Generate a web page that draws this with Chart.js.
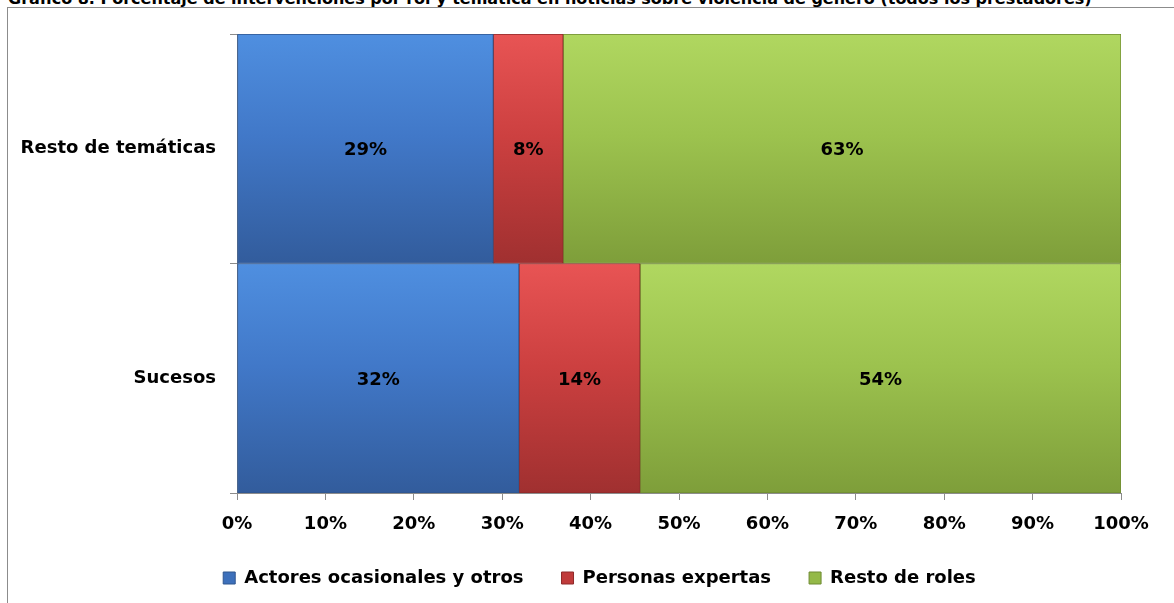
<!DOCTYPE html>
<html>
<head>
<meta charset="utf-8">
<script src="https://cdn.jsdelivr.net/npm/chart.js@4/dist/chart.umd.min.js"></script>
<style>
  html, body { margin: 0; padding: 0; background: #fff; overflow: hidden; }
  #wrap { position: relative; width: 1174px; height: 603px; overflow: hidden; }
  #title { position: absolute; left: 8px; top: -9px; font: bold 16px "DejaVu Sans", sans-serif; line-height: 16px; white-space: nowrap; color: #000; }
  #frame { position: absolute; left: 7px; top: 7px; width: 1200px; height: 700px; border-left: 1px solid #8c8c8c; border-top: 1px solid #8c8c8c; }
  canvas { position: absolute; left: 0; top: 0; }
</style>
</head>
<body>
<div id="wrap">
  <div id="title">Gráfico 8. Porcentaje de intervenciones por rol y temática en noticias sobre violencia de género (todos los prestadores)</div>
  <div id="frame"></div>
  <canvas id="c" width="1174" height="603"></canvas>
</div>
<script>
const categories = ['Resto de temáticas', 'Sucesos'];
const seriesNames = ['Actores ocasionales y otros', 'Personas expertas', 'Resto de roles'];
const actores = [29.0, 31.9];
const expertas = [7.9, 13.7];
const restoRoles = [63.1, 54.4];
const xTicks = [0, 10, 20, 30, 40, 50, 60, 70, 80, 90, 100];

const FONT = '"DejaVu Sans", sans-serif';
const palettes = [
  { top: '#4f8fe0', mid: '#4178c8', bottom: '#325c9c', border: '#2f568f', legend: '#3d70bb' },
  { top: '#e85454', mid: '#cc4040', bottom: '#a03030', border: '#8f2a2a', legend: '#c03b3b' },
  { top: '#b0d760', mid: '#9cc24e', bottom: '#7e9e3a', border: '#6f8b32', legend: '#94b948' }
];

function gradientFor(pi) {
  return function (ctx) {
    const chart = ctx.chart;
    const area = chart.chartArea;
    const p = palettes[pi];
    if (!area || !chart.scales.y) return p.mid;
    const yScale = chart.scales.y;
    const center = yScale.getPixelForValue(ctx.dataIndex);
    const half = (area.bottom - area.top) / categories.length / 2;
    const g = chart.ctx.createLinearGradient(0, center - half, 0, center + half);
    g.addColorStop(0, p.top);
    g.addColorStop(0.45, p.mid);
    g.addColorStop(1, p.bottom);
    return g;
  };
}

const valueLabels = {
  id: 'valueLabels',
  afterDatasetsDraw(chart) {
    const ctx = chart.ctx;
    ctx.save();
    ctx.font = 'bold 18px ' + FONT;
    ctx.fillStyle = '#000';
    ctx.textAlign = 'center';
    ctx.textBaseline = 'middle';
    chart.data.datasets.forEach((ds, di) => {
      const meta = chart.getDatasetMeta(di);
      meta.data.forEach((el, i) => {
        const x = (el.x + el.base) / 2;
        ctx.fillText(Math.round(ds.data[i]) + '%', x, el.y + 2);
      });
    });
    ctx.restore();
  }
};

const legendPlace = {
  id: 'legendPlace',
  afterLayout(chart) {
    const lg = chart.legend;
    if (lg) {
      lg.left += 39; lg.right += 39;
      const h = lg.bottom - lg.top;
      lg.top = 531; lg.bottom = 531 + h;
    }
  }
};

const datasets = [actores, expertas, restoRoles].map((data, i) => ({
  label: seriesNames[i],
  data: data,
  backgroundColor: gradientFor(i),
  borderColor: palettes[i].border,
  borderWidth: 1,
  borderSkipped: false,
  barPercentage: 1,
  categoryPercentage: 1
}));

new Chart(document.getElementById('c'), {
  type: 'bar',
  data: { labels: categories, datasets: datasets },
  options: {
    responsive: false,
    animation: false,
    indexAxis: 'y',
    layout: { padding: { top: 34, right: 53, left: 0, bottom: 0 } },
    scales: {
      x: {
        stacked: true,
        min: 0,
        max: 100,
        afterBuildTicks(scale) { scale.ticks = xTicks.map(v => ({ value: v })); },
        afterFit(scale) { scale.height = 44; },
        ticks: {
          callback: v => v + '%',
          font: { family: FONT, size: 18, weight: 'bold' },
          color: '#000',
          padding: 14,
          maxRotation: 0
        },
        grid: { display: true, drawOnChartArea: false, drawTicks: true, tickLength: 7, color: '#8c8c8c', lineWidth: 1 },
        border: { color: '#8c8c8c', width: 1 }
      },
      y: {
        stacked: true,
        afterFit(scale) { scale.width = 237; },
        ticks: {
          font: { family: FONT, size: 18, weight: 'bold' },
          color: '#000',
          padding: 14
        },
        grid: { display: true, drawOnChartArea: false, drawTicks: true, tickLength: 7, offset: true, color: '#8c8c8c', lineWidth: 1 },
        border: { color: '#8c8c8c', width: 1 }
      }
    },
    plugins: {
      legend: {
        position: 'bottom',
        labels: {
          boxWidth: 12,
          boxHeight: 12,
          padding: 38,
          font: { family: FONT, size: 18, weight: 'bold' },
          color: '#000',
          generateLabels(chart) {
            return chart.data.datasets.map((ds, i) => ({
              text: ds.label,
              fillStyle: palettes[i].legend,
              strokeStyle: palettes[i].border,
              lineWidth: 1,
              datasetIndex: i,
              hidden: false
            }));
          }
        }
      },
      tooltip: { enabled: false }
    }
  },
  plugins: [valueLabels, legendPlace]
});
</script>
</body>
</html>
